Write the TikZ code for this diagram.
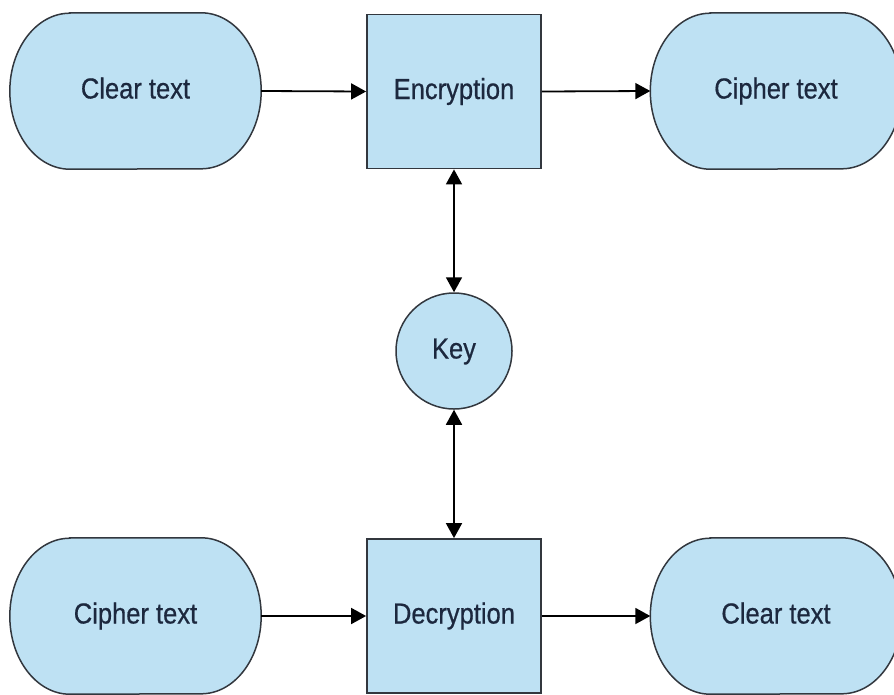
\documentclass[tikz,border=0pt]{standalone}
\usepackage{fontspec}
\setmainfont{Liberation Sans}[FakeStretch=0.88, FakeBold=0.6]
\usetikzlibrary{arrows.meta}
\definecolor{boxfill}{RGB}{190,225,243}
\definecolor{boxline}{RGB}{50,55,62}
\definecolor{txt}{RGB}{28,40,62}
\tikzset{
  base/.style={font=\fontsize{29}{32}\selectfont, text=txt, inner sep=0pt, text height=21pt, text depth=6pt},
  stad/.style={base, rectangle, minimum width=251pt, minimum height=156pt},
  sqbox/.style={base, rectangle, draw=boxline, fill=boxfill, line width=1.8pt, minimum width=174pt, minimum height=154pt},
  keynode/.style={base, circle, draw=boxline, fill=boxfill, line width=1.5pt, minimum size=116pt},
  outline/.style={draw=boxline, fill=boxfill, line width=1.5pt},
  conn/.style={line width=1.8pt, draw=black, -{Triangle[length=15pt,width=16pt]}},
  dconn/.style={line width=1.8pt, draw=black, {Triangle[length=15pt,width=16pt]}-{Triangle[length=15pt,width=16pt]}}
}
\newcommand{\stadiumshape}[1]{%
  \path[outline] ([xshift=60pt]#1.north west) -- ([xshift=-60pt]#1.north east)
    arc[start angle=90, end angle=-90, x radius=60pt, y radius=78pt]
    -- ([xshift=60pt]#1.south west)
    arc[start angle=270, end angle=90, x radius=60pt, y radius=78pt] -- cycle;}
\begin{document}
\begin{tikzpicture}[x=1pt,y=-1pt]
\useasboundingbox (0,0) rectangle (894,694);
\clip (0,0) rectangle (894,694);
% node placement
\node[stad] (clear1) at (135.5,91) {};
\node[stad] (cipher1) at (776,91) {};
\node[stad] (cipher2) at (135.5,616) {};
\node[stad] (clear2) at (776,616) {};
\stadiumshape{clear1}
\stadiumshape{cipher1}
\stadiumshape{cipher2}
\stadiumshape{clear2}
\node[base] at (clear1) {Clear text};
\node[base] at (cipher1) {Cipher text};
\node[base] at (cipher2) {Cipher text};
\node[base] at (clear2) {Clear text};
\node[sqbox] (enc) at (454,91.5) {Encryption};
\node[sqbox] (dec) at (454,616) {Decryption};
\node[keynode] (key) at (454,351) {Key};
% connectors
\draw[conn] (clear1.east) -- (enc.west);
\draw[conn] (enc.east) -- (cipher1.west);
\draw[conn] (cipher2.east) -- (dec.west);
\draw[conn] (dec.east) -- (clear2.west);
\draw[dconn] (enc.south) -- (key.north);
\draw[dconn] (key.south) -- (dec.north);
\end{tikzpicture}
\end{document}
